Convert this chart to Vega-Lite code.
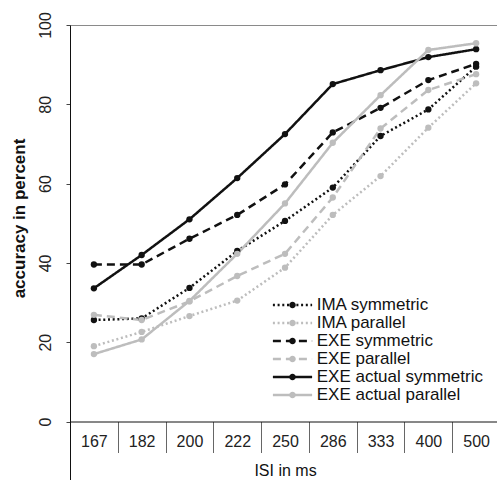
{
  "$schema": "https://vega.github.io/schema/vega-lite/v6.json",
  "width": 430,
  "height": 456,
  "autosize": "none",
  "padding": {"left": 70, "top": 25, "right": 0, "bottom": 0},
  "config": {
    "font": "Liberation Sans",
    "view": {"stroke": "#8a8a8a", "strokeWidth": 1},
    "axis": {"grid": false, "labelColor": "#222", "titleColor": "#111"}
  },
  "data": {
    "values": [
      {"isi": 167, "series": "IMA symmetric", "acc": 25.6},
      {"isi": 182, "series": "IMA symmetric", "acc": 26.0},
      {"isi": 200, "series": "IMA symmetric", "acc": 33.7},
      {"isi": 222, "series": "IMA symmetric", "acc": 43.0},
      {"isi": 250, "series": "IMA symmetric", "acc": 50.6},
      {"isi": 286, "series": "IMA symmetric", "acc": 59.0},
      {"isi": 333, "series": "IMA symmetric", "acc": 72.0},
      {"isi": 400, "series": "IMA symmetric", "acc": 78.7},
      {"isi": 500, "series": "IMA symmetric", "acc": 89.5},
      {"isi": 167, "series": "IMA parallel", "acc": 19.0},
      {"isi": 182, "series": "IMA parallel", "acc": 22.6},
      {"isi": 200, "series": "IMA parallel", "acc": 26.6},
      {"isi": 222, "series": "IMA parallel", "acc": 30.5},
      {"isi": 250, "series": "IMA parallel", "acc": 38.8},
      {"isi": 286, "series": "IMA parallel", "acc": 52.1},
      {"isi": 333, "series": "IMA parallel", "acc": 61.9},
      {"isi": 400, "series": "IMA parallel", "acc": 74.1},
      {"isi": 500, "series": "IMA parallel", "acc": 85.3},
      {"isi": 167, "series": "EXE symmetric", "acc": 39.6},
      {"isi": 182, "series": "EXE symmetric", "acc": 39.6},
      {"isi": 200, "series": "EXE symmetric", "acc": 46.1},
      {"isi": 222, "series": "EXE symmetric", "acc": 52.1},
      {"isi": 250, "series": "EXE symmetric", "acc": 59.8},
      {"isi": 286, "series": "EXE symmetric", "acc": 72.9},
      {"isi": 333, "series": "EXE symmetric", "acc": 79.1},
      {"isi": 400, "series": "EXE symmetric", "acc": 86.1},
      {"isi": 500, "series": "EXE symmetric", "acc": 90.2},
      {"isi": 167, "series": "EXE parallel", "acc": 26.9},
      {"isi": 182, "series": "EXE parallel", "acc": 25.6},
      {"isi": 200, "series": "EXE parallel", "acc": 30.3},
      {"isi": 222, "series": "EXE parallel", "acc": 36.7},
      {"isi": 250, "series": "EXE parallel", "acc": 42.3},
      {"isi": 286, "series": "EXE parallel", "acc": 56.5},
      {"isi": 333, "series": "EXE parallel", "acc": 73.9},
      {"isi": 400, "series": "EXE parallel", "acc": 83.6},
      {"isi": 500, "series": "EXE parallel", "acc": 87.6},
      {"isi": 167, "series": "EXE actual symmetric", "acc": 33.6},
      {"isi": 182, "series": "EXE actual symmetric", "acc": 42.0},
      {"isi": 200, "series": "EXE actual symmetric", "acc": 51.0},
      {"isi": 222, "series": "EXE actual symmetric", "acc": 61.4},
      {"isi": 250, "series": "EXE actual symmetric", "acc": 72.5},
      {"isi": 286, "series": "EXE actual symmetric", "acc": 85.1},
      {"isi": 333, "series": "EXE actual symmetric", "acc": 88.6},
      {"isi": 400, "series": "EXE actual symmetric", "acc": 91.9},
      {"isi": 500, "series": "EXE actual symmetric", "acc": 93.9},
      {"isi": 167, "series": "EXE actual parallel", "acc": 17.0},
      {"isi": 182, "series": "EXE actual parallel", "acc": 20.7},
      {"isi": 200, "series": "EXE actual parallel", "acc": 30.4},
      {"isi": 222, "series": "EXE actual parallel", "acc": 42.3},
      {"isi": 250, "series": "EXE actual parallel", "acc": 55.0},
      {"isi": 286, "series": "EXE actual parallel", "acc": 70.3},
      {"isi": 333, "series": "EXE actual parallel", "acc": 82.3},
      {"isi": 400, "series": "EXE actual parallel", "acc": 93.7},
      {"isi": 500, "series": "EXE actual parallel", "acc": 95.4}
    ]
  },
  "encoding": {
    "x": {
      "field": "isi",
      "type": "ordinal",
      "bandPosition": 0.5,
      "scale": {"type": "band", "paddingInner": 0, "paddingOuter": 0},
      "axis": {
        "title": "ISI in ms",
        "offset": -59.5,
        "tickBand": "extent",
        "tickSize": 31,
        "tickColor": "#666",
        "tickWidth": 1,
        "domainColor": "#111",
        "domainWidth": 1,
        "labelAngle": 0,
        "labelFontSize": 16,
        "labelBaseline": "alphabetic",
        "labelPadding": -6,
        "titleFontSize": 16,
        "titleFontWeight": "normal",
        "titleBaseline": "alphabetic",
        "titleY": 54
      }
    },
    "y": {
      "field": "acc",
      "type": "quantitative",
      "scale": {"domain": [-15, 100], "nice": false, "zero": false},
      "axis": {
        "title": "accuracy in percent",
        "values": [0, 20, 40, 60, 80, 100],
        "tickSize": 4,
        "tickColor": "#444",
        "domainColor": "#111",
        "domainWidth": 1,
        "labelAngle": 270,
        "labelAlign": "center",
        "labelBaseline": "middle",
        "labelPadding": 21,
        "labelFontSize": 16,
        "titleFontSize": 17,
        "titleFontWeight": "bold",
        "titleAngle": 270,
        "titleAlign": "center",
        "titleBaseline": "middle",
        "titleX": -51,
        "titleY": 193
      }
    }
  },
  "layer": [
    {
      "mark": {"type": "line", "strokeWidth": 2.5},
      "encoding": {
        "color": {
          "field": "series",
          "type": "nominal",
          "scale": {
            "domain": ["IMA symmetric", "IMA parallel", "EXE symmetric", "EXE parallel", "EXE actual symmetric", "EXE actual parallel"],
            "range": ["#111111", "#bdbdbd", "#111111", "#bdbdbd", "#111111", "#bdbdbd"]
          },
          "legend": {
            "title": null,
            "orient": "none",
            "legendX": 214,
            "legendY": 271.5,
            "padding": 0,
            "rowPadding": 0,
            "zindex": 0,
            "labelFontSize": 17,
            "labelLimit": 400,
            "labelColor": "#111",
            "labelOffset": 15.7,
            "symbolSize": 196,
            "symbolStrokeWidth": 2.5,
            "symbolType": "M-2.8,0L2.8,0"
          }
        },
        "strokeDash": {
          "field": "series",
          "type": "nominal",
          "scale": {
            "domain": ["IMA symmetric", "IMA parallel", "EXE symmetric", "EXE parallel", "EXE actual symmetric", "EXE actual parallel"],
            "range": [[2, 2.7], [2, 2.7], [8, 5], [8, 5], [1, 0], [1, 0]]
          },
          "legend": {
            "title": null,
            "orient": "none",
            "legendX": 214,
            "legendY": 271.5,
            "padding": 0,
            "rowPadding": 0,
            "zindex": 0,
            "labelFontSize": 17,
            "labelLimit": 400,
            "labelColor": "#111",
            "labelOffset": 15.7,
            "symbolSize": 196,
            "symbolStrokeWidth": 2.5,
            "symbolType": "M-2.8,0L2.8,0"
          }
        }
      }
    },
    {
      "mark": {"type": "circle", "size": 40, "opacity": 1},
      "encoding": {
        "fill": {
          "field": "series",
          "type": "nominal",
          "sort": null,
          "scale": {
            "range": ["#111111", "#bdbdbd", "#111111", "#bdbdbd", "#111111", "#bdbdbd"]
          },
          "legend": {
            "title": null,
            "orient": "none",
            "legendX": 214,
            "legendY": 271.5,
            "padding": 0,
            "rowPadding": 0,
            "zindex": 1,
            "labelFontSize": 17,
            "labelLimit": 400,
            "labelOpacity": 0,
            "labelOffset": 15.7,
            "symbolSize": 196,
            "symbolStrokeWidth": 2.5,
            "symbolStrokeColor": "transparent",
            "symbolOpacity": 1,
            "symbolType": "M0.47,0A0.47,0.47,0,1,1,-0.47,0A0.47,0.47,0,1,1,0.47,0Z"
          }
        }
      }
    }
  ]
}
